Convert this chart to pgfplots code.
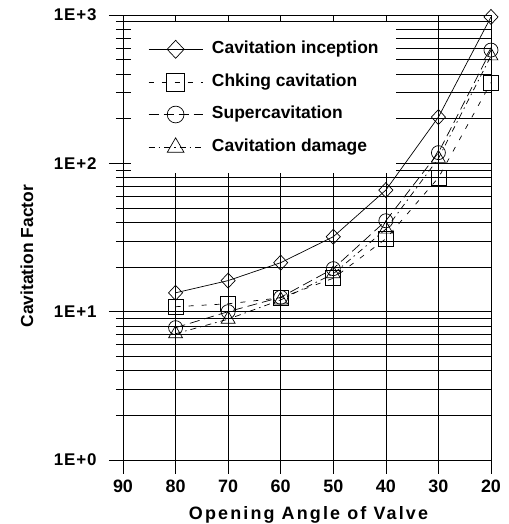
\documentclass[border=0pt]{standalone}
\usepackage{pgfplots}
\pgfplotsset{compat=1.18}
\usepackage{fontspec}
\setmainfont{Liberation Sans}
\begin{document}
\begin{tikzpicture}
\begin{axis}[
  scale only axis, width=368bp, height=445bp,
  xmin=20, xmax=90, x dir=reverse,
  ymode=log, ymin=1, ymax=1000,
  xtick={20,30,...,90},
  ytick={1,10,100,1000}, yticklabels={1E+0,1E+1,1E+2,1E+3},
  xmajorgrids, ymajorgrids, yminorgrids,
  grid style={black, line width=0.6pt},
  minor grid style={black, line width=0.6pt},
  axis line style={black, line width=0.8pt},
  tick align=outside, major tick length=14bp, minor tick length=7bp,
  xtick pos=left, ytick pos=left,
  tick style={black, line width=0.7pt},
  /pgf/number format/assume math mode=true,
  xticklabel style={font=\fontsize{18}{20}\selectfont\bfseries, yshift=-3bp},
  yticklabel style={font=\fontsize{17}{20}\selectfont\bfseries\addfontfeature{LetterSpace=5}, xshift=-9bp},
  xlabel={Opening Angle of Valve}, ylabel={Cavitation Factor},
  xlabel style={font=\fontsize{18}{20}\selectfont\bfseries\addfontfeature{LetterSpace=12},
    at={(axis description cs:0.504,-0.124)}, anchor=center},
  ylabel style={font=\fontsize{17.5}{20}\selectfont\bfseries,
    at={(axis description cs:-0.261,0.458)}, anchor=center},
  clip=false,
  legend style={at={(axis description cs:0.022,0.984)}, anchor=north west,
    draw=none, fill=white, font=\fontsize{17.5}{21}\selectfont\bfseries,
    inner xsep=17bp, inner ysep=18bp, row sep=14.9bp, column sep=9bp,
    nodes={inner sep=0pt, text height=12bp, text depth=4bp}},
  legend cell align=left,
  legend image code/.code={\draw[mark repeat=2,mark phase=2,/tikz/every mark/.append style={scale=1.2}] plot coordinates {(0bp,0bp)(27bp,0bp)(54bp,0bp)};},
  every axis plot/.append style={black, line width=0.7pt},
]
\addplot[solid, mark=diamond, mark size=7.5bp, mark options={solid, xscale=1.25}] coordinates {
(80,13.4) (70,16.2) (60,21.4) (50,32) (40,66) (30,205) (20,970)};
\addlegendentry{Cavitation inception}
\addplot[dash pattern=on 5bp off 8bp, mark=square, mark size=7.5bp, mark options={solid}] coordinates {
(80,10.8) (70,11.3) (60,12.4) (50,16.8) (40,31) (30,80) (20,350)};
\addlegendentry{Chking cavitation}
\addplot[dash pattern=on 10bp off 5bp, mark=o, mark size=7bp, mark options={solid}] coordinates {
(80,7.8) (70,10) (60,12.5) (50,19.5) (40,41) (30,118) (20,580)};
\addlegendentry{Supercavitation}
\addplot[dash pattern=on 6bp off 4bp on 1.5bp off 4bp, mark=triangle, mark size=8bp, mark options={solid}] coordinates {
(80,7.1) (70,8.9) (60,12) (50,18) (40,36) (30,108) (20,530)};
\addlegendentry{Cavitation damage}
\end{axis}
\pgfresetboundingbox
\path[use as bounding box] ([shift={(-123bp,-64bp)}]current axis.south west) rectangle ([shift={(18bp,15bp)}]current axis.north east);
\end{tikzpicture}
\end{document}
